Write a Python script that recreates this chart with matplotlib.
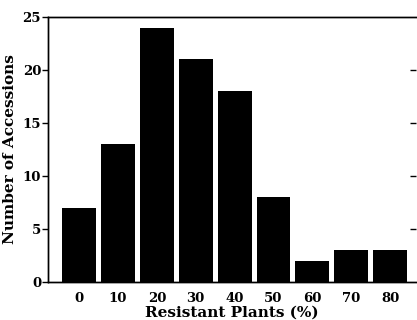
import matplotlib
matplotlib.use('Agg')
import matplotlib.pyplot as plt
import numpy as np

# resistant plants (%) classes and number of accessions
classes = [0, 10, 20, 30, 40, 50, 60, 70, 80]
counts = [7, 13, 24, 21, 18, 8, 2, 3, 3]
yticks = [0, 5, 10, 15, 20, 25]

plt.rcParams['font.family'] = ['DejaVu Serif']
plt.rcParams['font.weight'] = 'bold'

fig = plt.figure(figsize = (4.17, 3.2), dpi = 100)
ax = fig.add_axes([0.115, 0.119, 0.883, 0.828])

ax.bar(classes, counts, width = 8.7, color = 'black')
ax.set_xlim(-8, 86.7)
ax.set_ylim(0, 25)
ax.set_xticks(classes)
ax.set_xticklabels([str(c) for c in classes], fontsize = 9.5, fontweight = 'bold')
ax.set_yticks(yticks)
ax.set_yticklabels([str(t) for t in yticks], fontsize = 9.5, fontweight = 'bold')
ax.tick_params(axis = 'x', length = 0, pad = 7)
ax.tick_params(axis = 'y', direction = 'out', length = 4, pad = 1, width = 1)

# small inward ticks on the right side (no right spine)
ax2 = ax.twinx()
ax2.set_ylim(0, 25)
ax2.set_yticks(yticks[1:-1])
ax2.set_yticklabels([])
ax2.tick_params(axis = 'y', direction = 'in', length = 4, width = 1)

for a in (ax, ax2):
	for s in a.spines.values():
		s.set_linewidth(1)
	a.spines['right'].set_visible(False)

ax.set_xlabel('Resistant Plants (%)', fontsize = 11, fontweight = 'bold', labelpad = 1)
ax.set_ylabel('Number of Accessions', fontsize = 11, fontweight = 'bold', labelpad = 4)

fig.savefig('out.png', dpi = 100)
